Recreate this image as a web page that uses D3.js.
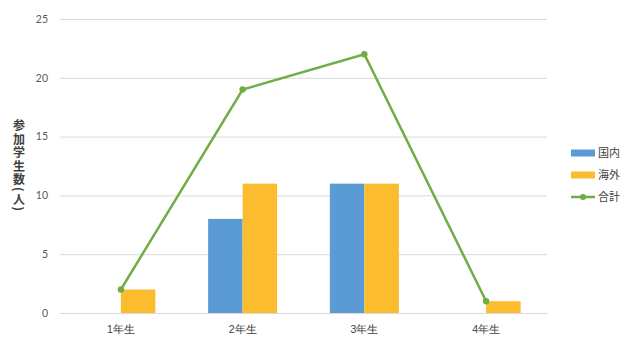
<!DOCTYPE html>
<html>
<head>
<meta charset="utf-8">
<script src="https://cdn.jsdelivr.net/npm/d3@7"></script>
<style>
  html, body { margin: 0; padding: 0; background: #fff; }
  svg { display: block; font-family: "Noto Sans CJK JP", "Noto Sans", sans-serif; }
</style>
</head>
<body>
<svg id="chart" width="624" height="340"></svg>
<script>
// Participants per grade
const categories = ["1年生", "2年生", "3年生", "4年生"];
const domestic = [0, 8, 11, 0];    // 国内
const overseas = [2, 11, 11, 1];   // 海外
const total = [2, 19, 22, 1];      // 合計
const yTicks = [0, 5, 10, 15, 20, 25];
const seriesNames = ["国内", "海外", "合計"];
const colors = { domestic: "#5B9BD5", overseas: "#FBBC2D", total: "#70AD47" };

const svg = d3.select("#chart");
const plotLeft = 60, plotRight = 547, plotTop = 18, plotBottom = 313;

const x = d3.scaleBand().domain(categories).range([plotLeft, plotRight]).paddingInner(0).paddingOuter(0);
const inner = d3.scaleBand().domain(["domestic", "overseas"]).range([0, x.bandwidth()]).paddingInner(0).paddingOuter(0.765);
const y = d3.scaleLinear().domain([0, 25]).range([plotBottom, plotTop + 1]);

// gridlines
const yAxis = d3.axisLeft(y).tickValues(yTicks).tickSize(-(plotRight - plotLeft)).tickPadding(12);
const gy = svg.append("g").attr("transform", `translate(${plotLeft},0)`).call(yAxis);
gy.select(".domain").remove();
gy.selectAll(".tick line").attr("stroke", "#d9d9d9").attr("stroke-width", 1);
gy.selectAll(".tick text").attr("fill", "#595959").attr("font-size", 10.5)
  .attr("font-family", "Lato, 'Noto Sans', sans-serif");

// x axis
const xAxis = d3.axisBottom(x).tickSize(0).tickPadding(13);
const gx = svg.append("g").attr("transform", `translate(0,${plotBottom})`).call(xAxis);
gx.select(".domain").attr("stroke", "#d9d9d9");
gx.selectAll(".tick text").attr("fill", "#404040").attr("font-size", 10.5);

// bars
const rows = categories.map((c, i) => ({ c, domestic: domestic[i], overseas: overseas[i] }));
const groups = svg.append("g").selectAll("g").data(rows).join("g")
  .attr("transform", d => `translate(${x(d.c)},0)`);
groups.selectAll("rect").data(d => ["domestic", "overseas"].map(k => ({ k, v: d[k] })))
  .join("rect")
  .attr("x", d => inner(d.k))
  .attr("width", inner.bandwidth())
  .attr("y", d => y(d.v))
  .attr("height", d => plotBottom - y(d.v))
  .attr("fill", d => colors[d.k]);

// total line
const pts = categories.map((c, i) => [x(c) + x.bandwidth() / 2, y(total[i])]);
svg.append("path").attr("d", d3.line()(pts))
  .attr("fill", "none").attr("stroke", colors.total).attr("stroke-width", 2.5);
svg.append("g").selectAll("circle").data(pts).join("circle")
  .attr("cx", d => d[0]).attr("cy", d => d[1]).attr("r", 3.2).attr("fill", colors.total);

// y axis title (vertical)
svg.append("text")
  .attr("x", 19).attr("y", 166)
  .attr("text-anchor", "middle")
  .attr("font-size", 12).attr("font-weight", "bold").attr("fill", "#404040")
  .attr("letter-spacing", 1.5)
  .style("writing-mode", "vertical-rl")
  .text("参加学生数(人)");

// legend
const leg = svg.append("g").attr("transform", "translate(571,153)");
const keys = ["domestic", "overseas", "total"];
keys.forEach((k, i) => {
  const g = leg.append("g").attr("transform", `translate(0,${i * 22})`);
  if (k === "total") {
    g.append("line").attr("x1", 0).attr("x2", 24).attr("y1", 0).attr("y2", 0)
      .attr("stroke", colors.total).attr("stroke-width", 2.5);
    g.append("circle").attr("cx", 12).attr("cy", 0).attr("r", 3).attr("fill", colors.total);
  } else {
    g.append("rect").attr("x", 0).attr("y", -3.5).attr("width", 24).attr("height", 7).attr("fill", colors[k]);
  }
  g.append("text").attr("x", 27).attr("y", 0).attr("dy", "0.35em")
    .attr("font-size", 11).attr("fill", "#404040").text(seriesNames[i]);
});
</script>
</body>
</html>
